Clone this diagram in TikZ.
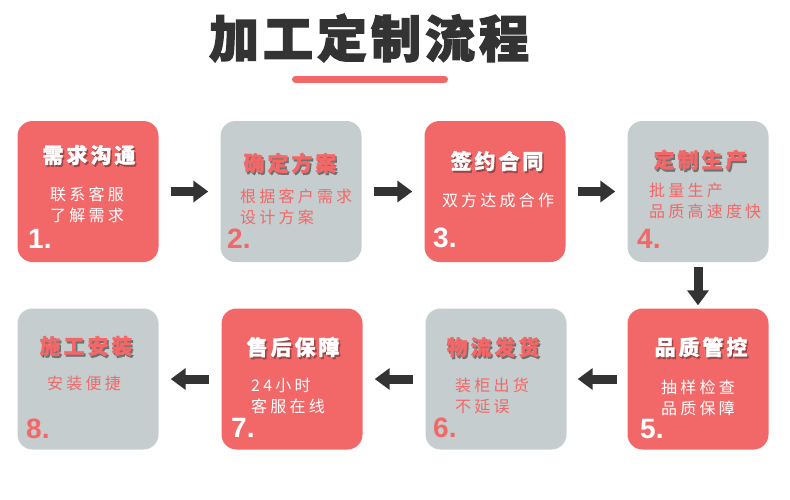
\documentclass[tikz,border=0pt]{standalone}
\usepackage{fontspec}
\setmainfont{Liberation Sans}
\newfontfamily\cjktitle[LetterSpace=8, BoldFeatures={FakeBold=2.5}]{Noto Sans CJK SC}
\newfontfamily\cjkhead[LetterSpace=14, BoldFeatures={FakeBold=1.2}]{Noto Sans CJK SC}
\newfontfamily\cjkbody[LetterSpace=20]{Noto Sans CJK SC}
\usepackage{xcolor}
\definecolor{boxred}{HTML}{F26868}
\definecolor{boxgrey}{HTML}{C5CDCE}
\definecolor{darkgrey}{HTML}{333333}
\usetikzlibrary{arrows.meta}

% heading text with a soft drop shadow behind it: shadow colour, text colour, text
\newcommand{\shadowed}[3]{%
  \makebox[0pt][l]{\kern1.5pt\raisebox{-2pt}{\textcolor{#1}{#3}}}\textcolor{#2}{#3}}

\begin{document}
\begin{tikzpicture}[x=1pt,y=-1pt,
    redbox/.style={fill=boxred, rounded corners=15pt, minimum width=141pt,
      minimum height=141pt, inner sep=0pt},
    greybox/.style={redbox, fill=boxgrey},
    head/.style={inner sep=0pt, font=\cjkhead\bfseries\fontsize{21}{21}\selectfont},
    body/.style={inner sep=0pt, font=\cjkbody\fontsize{16}{21}\selectfont},
    num/.style={inner sep=0pt, anchor=base west, font=\bfseries\fontsize{28}{28}\selectfont},
    flow/.style={draw=darkgrey, line width=9pt, -{Triangle[length=15pt,width=21pt]},
      shorten <=12pt, shorten >=12pt}]
  \useasboundingbox (0,0) rectangle (790,499);

  \node[text=darkgrey, inner sep=0pt, font=\cjktitle\bfseries\fontsize{50}{50}\selectfont]
    (title) at (369,38) {加工定制流程};
  \draw[boxred, line width=7pt, line cap=round] (295.5,79) -- (444.5,79);

  % first row
  \node[redbox]  (b1) at (88,191.5)  {};
  \node[greybox] (b2) at (291,191.5) {};
  \node[redbox]  (b3) at (495,191.5) {};
  \node[greybox] (b4) at (698,191.5) {};
  % second row
  \node[redbox]  (b5) at (698,379) {};
  \node[greybox] (b6) at (496,379) {};
  \node[redbox]  (b7) at (292,379) {};
  \node[greybox] (b8) at (88,379)  {};

  \node[head] (h1) at (89,156) {\shadowed{boxred!65!black}{white}{需求沟通}};
  \node[body, text=white, align=center] (t1) at (87,205) {联系客服\\了解需求};
  \node[num, text=white] (n1) at (28,248) {1.};

  \node[head] (h2) at (290,164) {\shadowed{boxgrey!55!black}{boxred}{确定方案}};
  \node[body, text=boxred, anchor=west, align=left] (t2) at (240,207) {根据客户需求\\设计方案};
  \node[num, text=boxred] (n2) at (227,248) {2.};

  \node[head] (h3) at (497,162) {\shadowed{boxred!65!black}{white}{签约合同}};
  \node[body, text=white] (t3) at (498,200) {双方达成合作};
  \node[num, text=white] (n3) at (433,247) {3.};

  \node[head] (h4) at (700,161) {\shadowed{boxgrey!55!black}{boxred}{定制生产}};
  \node[body, text=boxred, anchor=west, align=left] (t4) at (649,201) {批量生产\\品质高速度快};
  \node[num, text=boxred] (n4) at (637,248) {4.};

  \node[head] (h5) at (701,348) {\shadowed{boxred!65!black}{white}{品质管控}};
  \node[body, text=white, align=center] (t5) at (698,398) {抽样检查\\品质保障};
  \node[num, text=white] (n5) at (640,438) {5.};

  \node[head] (h6) at (493,348) {\shadowed{boxgrey!55!black}{boxred}{物流发货}};
  \node[body, text=boxred, anchor=west, align=left] (t6) at (455,396) {装柜出货\\不延误};
  \node[num, text=boxred] (n6) at (433,437) {6.};

  \node[head] (h7) at (293,348) {\shadowed{boxred!65!black}{white}{售后保障}};
  \node[body, text=white, anchor=west, align=left] (t7) at (251,396) {24小时\\客服在线};
  \node[num, text=white] (n7) at (231,437) {7.};

  \node[head] (h8) at (86,347) {\shadowed{boxgrey!55!black}{boxred}{施工安装}};
  \node[body, text=boxred] (t8) at (84,383) {安装便捷};
  \node[num, text=boxred] (n8) at (26,438) {8.};

  \draw[flow] (b1) -- (b2);
  \draw[flow] (b2) -- (b3);
  \draw[flow] (b3) -- (b4);
  \draw[flow, shorten <=5pt, shorten >=3pt] (b4) -- (b5);
  \draw[flow, shorten <=10pt, shorten >=11pt] (b5) -- (b6);
  \draw[flow] (b6) -- (b7);
  \draw[flow] (b7) -- (b8);
\end{tikzpicture}
\end{document}
